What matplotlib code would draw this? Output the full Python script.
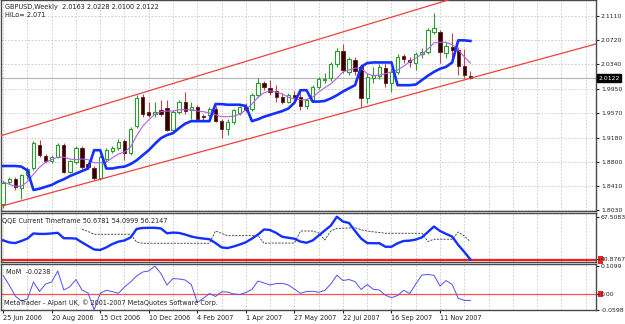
import matplotlib

matplotlib.use("Agg")
import matplotlib.pyplot as plt
import matplotlib.transforms as mtransforms
from matplotlib.patches import Rectangle
import numpy as np

# GBPUSD weekly bars, 25 Jun 2006 .. 16 Dec 2007
opens = [1.812, 1.848, 1.852, 1.838, 1.858, 1.870, 1.907, 1.889, 1.881, 1.887,
         1.906, 1.864, 1.880, 1.901, 1.876, 1.870, 1.854, 1.884, 1.897, 1.901,
         1.913, 1.894, 1.937, 1.982, 1.958, 1.955, 1.962, 1.965, 1.930, 1.958,
         1.975, 1.962, 1.966, 1.952, 1.953, 1.963, 1.945, 1.931, 1.943, 1.957,
         1.966, 1.963, 1.986, 2.004, 1.997, 1.991, 1.983, 1.975, 1.986, 1.983,
         1.968, 1.977, 1.998, 2.009, 2.012, 2.034, 2.055, 2.022, 2.041, 2.030,
         1.981, 2.013, 2.015, 2.028, 2.005, 2.022, 2.047, 2.041, 2.036, 2.050,
         2.054, 2.085, 2.086, 2.052, 2.062, 2.057, 2.031, 2.0163]
highs = [1.850, 1.855, 1.856, 1.860, 1.872, 1.913, 1.914, 1.892, 1.890, 1.909,
         1.909, 1.883, 1.905, 1.905, 1.879, 1.873, 1.890, 1.902, 1.905, 1.915,
         1.916, 1.935, 1.986, 1.987, 1.975, 1.975, 1.977, 1.977, 1.962, 1.978,
         1.990, 1.975, 1.969, 1.956, 1.966, 1.968, 1.948, 1.947, 1.964, 1.968,
         1.972, 1.989, 2.013, 2.008, 2.009, 2.001, 1.988, 1.988, 1.991, 1.990,
         1.981, 2.002, 2.014, 2.020, 2.037, 2.060, 2.066, 2.046, 2.046, 2.034,
         2.020, 2.030, 2.034, 2.036, 2.028, 2.050, 2.051, 2.046, 2.054, 2.060,
         2.091, 2.116, 2.089, 2.070, 2.083, 2.062, 2.059, 2.0228]
lows = [1.806, 1.845, 1.835, 1.820, 1.853, 1.866, 1.887, 1.877, 1.878, 1.885,
        1.862, 1.862, 1.876, 1.868, 1.869, 1.851, 1.851, 1.880, 1.894, 1.898,
        1.882, 1.891, 1.933, 1.951, 1.951, 1.951, 1.952, 1.928, 1.927, 1.955,
        1.955, 1.948, 1.945, 1.946, 1.950, 1.942, 1.918, 1.922, 1.940, 1.954,
        1.958, 1.960, 1.983, 1.993, 1.985, 1.975, 1.971, 1.972, 1.978, 1.962,
        1.963, 1.974, 1.995, 2.004, 2.008, 2.030, 2.021, 2.017, 2.017, 1.967,
        1.973, 2.004, 2.010, 1.998, 1.990, 2.018, 2.036, 2.030, 2.025, 2.044,
        2.050, 2.082, 2.036, 2.044, 2.036, 2.017, 2.013, 2.0100]
closes = [1.846, 1.852, 1.839, 1.858, 1.868, 1.909, 1.890, 1.881, 1.887, 1.906,
          1.864, 1.881, 1.901, 1.871, 1.871, 1.854, 1.887, 1.899, 1.902, 1.911,
          1.894, 1.931, 1.980, 1.955, 1.954, 1.959, 1.956, 1.930, 1.959, 1.975,
          1.960, 1.966, 1.948, 1.950, 1.963, 1.945, 1.931, 1.943, 1.961, 1.966,
          1.962, 1.986, 2.004, 1.998, 1.990, 1.983, 1.975, 1.985, 1.983, 1.968,
          1.977, 1.998, 2.010, 2.011, 2.034, 2.055, 2.025, 2.043, 2.023, 1.981,
          2.014, 2.017, 2.030, 2.005, 2.022, 2.046, 2.042, 2.037, 2.051, 2.054,
          2.088, 2.091, 2.054, 2.063, 2.057, 2.031, 2.017, 2.0122]

# HiLo activator (thick blue) and moving average (thin violet)
hilo = [1.873, 1.873, 1.873, 1.872, 1.866, 1.835, 1.837, 1.840, 1.843, 1.848,
        1.852, 1.857, 1.861, 1.865, 1.869, 1.898, 1.898, 1.869, 1.869, 1.871,
        1.872, 1.876, 1.882, 1.890, 1.898, 1.908, 1.917, 1.922, 1.925, 1.933,
        1.940, 1.944, 1.944, 1.944, 1.944, 1.971, 1.971, 1.970, 1.970, 1.970,
        1.968, 1.944, 1.947, 1.951, 1.954, 1.957, 1.960, 1.964, 1.973, 1.993,
        1.993, 1.975, 1.975, 1.976, 1.980, 1.985, 1.991, 1.996, 2.001, 2.030,
        2.036, 2.037, 2.037, 2.037, 2.037, 2.001, 2.001, 2.001, 2.002, 2.009,
        2.016, 2.022, 2.027, 2.030, 2.037, 2.072, 2.072, 2.071]
ma_line = [1.848, 1.844, 1.841, 1.841, 1.848, 1.860, 1.871, 1.879, 1.883, 1.887,
           1.887, 1.884, 1.883, 1.884, 1.883, 1.878, 1.878, 1.879, 1.886, 1.892,
           1.895, 1.903, 1.921, 1.936, 1.946, 1.955, 1.959, 1.960, 1.960, 1.962,
           1.962, 1.962, 1.960, 1.959, 1.957, 1.954, 1.951, 1.951, 1.952, 1.955,
           1.962, 1.971, 1.982, 1.989, 1.992, 1.990, 1.987, 1.982, 1.979, 1.978,
           1.978, 1.982, 1.990, 1.997, 2.003, 2.012, 2.022, 2.025, 2.028, 2.028,
           2.019, 2.016, 2.017, 2.019, 2.022, 2.025, 2.031, 2.038, 2.044, 2.050,
           2.058, 2.068, 2.069, 2.069, 2.065, 2.057, 2.046, 2.036]

# QQE sub-window
qqe_rsi = [52.8, 51.5, 51.1, 52.4, 53.9, 57.1, 56.8, 56.8, 57.1, 57.5,
           54.1, 54.1, 53.9, 51.5, 49.3, 47.1, 46.8, 48.4, 50.5, 52.0,
           52.7, 54.6, 59.9, 60.5, 60.6, 60.6, 60.2, 57.2, 57.6, 57.4,
           56.4, 55.2, 54.4, 53.9, 53.5, 51.1, 48.4, 48.0, 49.0, 50.2,
           51.6, 53.9, 56.4, 59.6, 59.2, 57.4, 55.0, 54.4, 53.8, 52.0,
           51.3, 52.7, 55.8, 58.9, 62.0, 67.5, 64.5, 63.6, 58.6, 53.9,
           51.1, 51.0, 51.0, 48.8, 48.8, 51.0, 52.4, 52.6, 53.3, 54.6,
           58.0, 61.4, 58.6, 56.8, 55.1, 49.9, 45.6, 40.9]
qqe_trail = [np.nan] * 13 + [
    59.7, 58.3, 56.6, 56.6, 56.6, 56.6, 56.6, 56.6, 56.6, 51.8,
    51.0, 51.0, 51.0, 51.0, 51.0, 51.0, 51.0, 51.0, 51.0, 51.0,
    51.0, 51.0, 58.6, 57.2, 55.7, 55.7, 55.7, 55.7, 55.7, 55.7,
    51.0, 51.1, 51.1, 51.1, 51.1, 51.1, 58.6, 58.6, 58.6, 57.4,
    53.0, 58.6, 60.2, 60.3, 60.5, 60.7, 59.4, 58.6, 58.1, 57.7,
    57.2, 57.2, 57.2, 57.2, 57.2, 57.2, 57.2, 52.1, 53.5, 53.5,
    53.5, 53.5, 58.0, 55.5, 51.9]

# Momentum sub-window
mom = [0.0730, 0.0361, -0.0066, -0.0260, -0.0183, 0.0478, 0.0109, 0.0400, 0.0478, 0.0905,
       0.0167, 0.0295, 0.0575, 0.0167, 0.0050, -0.0598, 0.0039, 0.0155, 0.0105, 0.0039,
       0.0283, 0.0478, 0.0711, 0.0866, 0.0905, 0.1099, 0.0808, 0.0361, 0.0614, 0.0594,
       0.0555, 0.0381, -0.0318, -0.0155, 0.0031, -0.0085, 0.0097, 0.0089, 0.0012, -0.0008,
       0.0070, 0.0186, 0.0516, 0.0439, 0.0361, 0.0419, 0.0427, 0.0361, 0.0206, 0.0039,
       0.0109, 0.0120, 0.0078, 0.0148, 0.0400, 0.0742, 0.0536, 0.0575, 0.0489, 0.0186,
       0.0381, 0.0194, 0.0167, -0.0035, -0.0132, -0.0047, 0.0155, 0.0031, 0.0400, 0.0749,
       0.0769, 0.0738, 0.0322, 0.0536, 0.0381, -0.0155, -0.0240, -0.0238]

label_bars = [0, 8, 16, 24, 32, 40, 48, 56, 64, 72]
date_labels = ["25 Jun 2006", "20 Aug 2006", "15 Oct 2006", "10 Dec 2006", "4 Feb 2007",
               "1 Apr 2007", "27 May 2007", "22 Jul 2007", "16 Sep 2007", "11 Nov 2007"]
price_ticks = [1.8030, 1.8410, 1.8800, 1.9180, 1.9570, 1.9950, 2.0340, 2.0720, 2.1110]
upper_channel = [(0, 1.922), (72, 2.132)]
lower_channel = [(0, 1.810), (77, 2.012)]
last_price = 2.0122
qqe_range = (40.8767, 67.5083)
qqe_level = 40.55
mom_range = (-0.0598, 0.1099)

W, H = 625, 324
FONT = 4.7
AXFONT = 4.4
GRID = dict(color="#c6c6c6", linestyle=(0, (2, 2)), linewidth=0.6)
BULL = "#2f9a2f"
BEAR_BODY = "#2a0000"
BEAR_WICK = "#b44848"
LEVEL_RED = "#ee2020"

plt.rcParams["font.family"] = ["DejaVu Sans"]
fig = plt.figure(figsize=(W / 100, H / 100), dpi=100, facecolor="white")


def px_box(x0, y0, x1, y1):
    return [x0 / W, 1 - y1 / H, (x1 - x0) / W, (y1 - y0) / H]


def level_marker(ax, value, half_height):
    """Small red tag on the price scale, like MT4 draws for indicator levels."""
    tr = mtransforms.blended_transform_factory(ax.transAxes, ax.transData)
    ax.add_patch(Rectangle((1.003, value - half_height), 0.008, 2 * half_height, transform=tr,
                           facecolor=LEVEL_RED, edgecolor="none", clip_on=False, zorder=0.3))


ax_main = fig.add_axes(px_box(1, 0, 596, 211))
ax_qqe = fig.add_axes(px_box(1, 213, 596, 262))
ax_mom = fig.add_axes(px_box(1, 264, 596, 310))

x = np.arange(len(opens))
o, h, l, c = (np.array(v) for v in (opens, highs, lows, closes))
up = c >= o

for ax in (ax_main, ax_qqe, ax_mom):
    ax.set_xlim(-0.35, 97.7)
    ax.set_xticks(label_bars)
    ax.set_xticks(np.arange(0, 98, 4), minor=True)
    ax.grid(True, axis="x", which="both", **GRID)
    ax.tick_params(axis="x", which="minor", length=0)
    ax.yaxis.tick_right()
    ax.tick_params(axis="y", length=2.5, pad=1.0, labelsize=AXFONT, colors="#222222")
    for sp in ax.spines.values():
        sp.set_color("#4a4a4a")
        sp.set_linewidth(1.0)
    ax.set_axisbelow(True)
for ax in (ax_main, ax_qqe):
    ax.tick_params(axis="x", which="major", length=0, labelbottom=False)

# --- main price window ---
ax_main.set_ylim(1.8017, 2.1359)
ax_main.set_yticks(price_ticks)
ax_main.set_yticklabels([f"{p:.4f}" for p in price_ticks])
ax_main.grid(True, axis="y", **GRID)

ax_main.vlines(x[up], l[up], h[up], color=BULL, lw=0.8, zorder=2)
ax_main.vlines(x[~up], l[~up], h[~up], color=BEAR_WICK, lw=0.8, zorder=2)
ax_main.bar(x[up], np.maximum((c - o)[up], 0.0008), bottom=o[up], width=0.55,
            facecolor="white", edgecolor=BULL, linewidth=0.8, zorder=3)
ax_main.bar(x[~up], np.maximum((o - c)[~up], 0.0008), bottom=c[~up], width=0.55,
            facecolor=BEAR_BODY, edgecolor="#6a1414", linewidth=0.6, zorder=3)

ax_main.axhline(last_price, color="#b4b4b4", lw=0.8, zorder=1)
ax_main.axline(*upper_channel, color="#f04040", lw=0.9, zorder=4)
ax_main.axline(*lower_channel, color="#f04040", lw=0.9, zorder=4)
ax_main.plot(x, ma_line, color="#b35ee8", lw=0.8, zorder=5)
ax_main.plot(x, hilo, color="#1230ff", lw=1.9, zorder=6)

trans = mtransforms.blended_transform_factory(ax_main.transAxes, ax_main.transData)
ax_main.text(1.004, last_price, f"{last_price:.4f}", transform=trans, ha="left", va="center",
             fontsize=AXFONT, color="white", zorder=10, clip_on=False,
             bbox=dict(facecolor="black", edgecolor="black", pad=0.9))
ax_main.text(0.007, 0.965, "GBPUSD,Weekly  2.0163 2.0228 2.0100 2.0122", transform=ax_main.transAxes,
             fontsize=FONT, color="#222222", va="center")
ax_main.text(0.007, 0.928, "HiLo= 2.071", transform=ax_main.transAxes,
             fontsize=FONT, color="#222222", va="center")

# --- QQE window ---
ax_qqe.set_ylim(39.32, 69.81)
ax_qqe.set_yticks(list(qqe_range))
ax_qqe.set_yticklabels([f"{v:.4f}" for v in qqe_range])
ax_qqe.axhline(qqe_level, color=LEVEL_RED, lw=1.6, zorder=2)
ax_qqe.plot(x, qqe_trail, color="#333333", lw=0.6, linestyle=(0, (2.5, 1.5)), zorder=3)
ax_qqe.plot(x, qqe_rsi, color="#1230ff", lw=1.7, zorder=4)
ax_qqe.text(0.002, 0.83, "QQE Current Timeframe 50.6781 54.0999 56.2147", transform=ax_qqe.transAxes,
            fontsize=FONT, color="#222222", va="center")
level_marker(ax_qqe, qqe_level, 2.2)

# --- Momentum window ---
ax_mom.set_ylim(-0.0610, 0.1177)
mom_ticks = [mom_range[1], 0.0, mom_range[0]]
ax_mom.set_yticks(mom_ticks)
ax_mom.set_yticklabels(["0.1099", "0.00", "-0.0598"])
ax_mom.axhline(0.0, color="#ff5050", lw=0.9, zorder=2)
ax_mom.plot(x, mom, color="#5050f0", lw=0.7, zorder=3)
level_marker(ax_mom, 0.0, 0.012)
ax_mom.set_xticklabels(date_labels)
ax_mom.tick_params(axis="x", which="major", length=2, pad=1.5, labelsize=FONT, colors="#222222")
for lab in ax_mom.get_xticklabels():
    lab.set_horizontalalignment("left")
ax_mom.text(0.008, 0.83, "MoM  -0.0238", transform=ax_mom.transAxes,
            fontsize=FONT, color="#222222", va="center")
ax_mom.text(0.005, 0.15, "MetaTrader - Alpari UK, \u00a9 2001-2007 MetaQuotes Software Corp.",
            transform=ax_mom.transAxes, fontsize=FONT, color="#222222", va="center")

fig.savefig("out.png", dpi=100, facecolor="white")
